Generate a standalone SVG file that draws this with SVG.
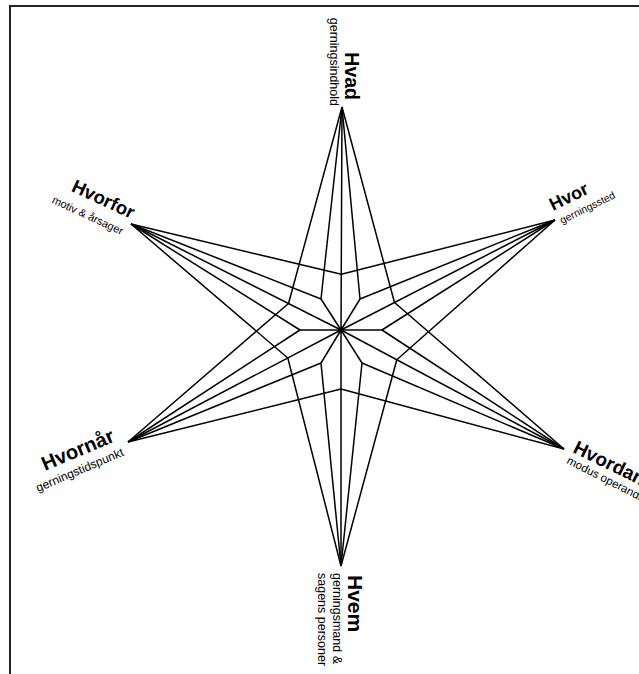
<svg xmlns="http://www.w3.org/2000/svg" width="639" height="674" viewBox="0 0 639 674">
<style>
.ln{stroke:#000;stroke-width:1.5;fill:none;stroke-linejoin:round}
.t{font-family:"Liberation Sans",Arial,sans-serif;font-weight:bold;fill:#000}
.s{font-family:"Liberation Sans",Arial,sans-serif;fill:#000}
</style>
<rect width="639" height="674" fill="#fff"/>
<path d="M10,674 V6 H639" stroke="#222" stroke-width="2" fill="none"/>
<g id="connectors">
<path class="ln" d="M341,330 L342,107 M341,330 L555,220 M341,330 L564,449 M341,330 L341,566 M341,330 L128,442 M341,330 L131,224"/>
<path class="ln" d="M341,330 L360,299 M341,330 L382,330 M341,330 L362,363 M341,330 L321,363 M341,330 L300,330 M341,330 L321,299"/>
<path class="ln" d="M342,107 L360,299 L555,220 M555,220 L382,330 L564,449 M564,449 L362,363 L341,566 M341,566 L321,363 L128,442 M128,442 L300,330 L131,224 M131,224 L321,299 L342,107"/>
<path class="ln" d="M131,224 L341.3,274.3 L555,220 M342,107 L394.5,302.5 L564,449 M555,220 L396.8,359.8 L341,566 M564,449 L341,389 L128,442 M341,566 L287.8,358 L131,224 M128,442 L288.5,303.5 L342,107"/>
<circle cx="341" cy="330" r="3" fill="#000"/>
</g>
<g id="hvad">
<text class="t" font-size="19.5" transform="translate(345,100) rotate(90)" text-anchor="end">Hvad</text>
<text class="s" font-size="12.5" transform="translate(330,106) rotate(90)" text-anchor="end">gerningsindhold</text>
</g>
<g id="hvor">
<text class="t" font-size="18" transform="translate(553,211) rotate(-26)">Hvor</text>
<text class="s" font-size="10.5" transform="translate(562,224) rotate(-26)">gerningssted</text>
</g>
<g id="hvordan">
<text class="t" font-size="19" transform="translate(572,452) rotate(26)">Hvordan</text>
<text class="s" font-size="11.5" transform="translate(566,463) rotate(27)">modus operandi</text>
</g>
<g id="hvem">
<text class="t" font-size="21" transform="translate(348,575) rotate(90)">Hvem</text>
<text class="s" font-size="12.5" transform="translate(333,573) rotate(90)">gerningsmand &amp;</text>
<text class="s" font-size="12.5" transform="translate(318,573) rotate(90)">sagens personer</text>
</g>
<g id="hvornaar">
<text class="t" font-size="20" transform="translate(45,471) rotate(-23)">Hvornår</text>
<text class="s" font-size="12" transform="translate(38,492) rotate(-23)">gerningstidspunkt</text>
</g>
<g id="hvorfor">
<text class="t" font-size="18.5" transform="translate(131,219) rotate(25)" text-anchor="end">Hvorfor</text>
<text class="s" font-size="11" transform="translate(121,235) rotate(25)" text-anchor="end">motiv &amp; årsager</text>
</g>
</svg>
